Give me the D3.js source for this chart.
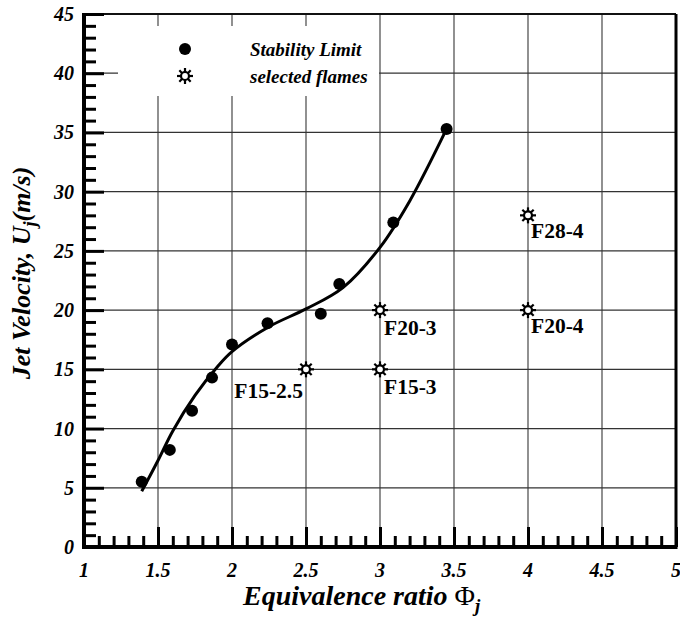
<!DOCTYPE html>
<html>
<head>
<meta charset="utf-8">
<script src="https://cdn.jsdelivr.net/npm/d3@7"></script>
<style>
  body { margin: 0; background: white; }
  text { font-family: "Liberation Serif", "Times New Roman", serif; }
</style>
</head>
<body>
<div id="chart"></div>
<script>
// stability limit measurements (phi, U)
const limitPhi = [1.39, 1.58, 1.73, 1.865, 2.0, 2.24, 2.60, 2.725, 3.09, 3.45]
const limitU   = [5.5, 8.2, 11.5, 14.3, 17.1, 18.9, 19.7, 22.2, 27.4, 35.3]

// fitted curve
const curvePhi = [1.39, 1.5, 1.6, 1.75, 1.9, 2.0, 2.25, 2.5, 2.75, 3.0, 3.2, 3.45]
const curveU   = [4.7, 7.3, 9.8, 12.8, 15.2, 16.5, 18.6, 20.1, 21.9, 25.3, 29.2, 35.3]

// selected flames
const flameNames = ["F15-2.5", "F15-3", "F20-3", "F20-4", "F28-4"]
const flamePhi   = [2.5, 3.0, 3.0, 4.0, 4.0]
const flameU     = [15, 15, 20, 20, 28]

const xTicks = [1, 1.5, 2, 2.5, 3, 3.5, 4, 4.5, 5]
const yTicks = [0, 5, 10, 15, 20, 25, 30, 35, 40, 45]

const w = 680, h = 619
const padL = 84, padR = 676, padT = 14, padB = 547

const svg = d3.select('#chart').append('svg')
    .attr('width', w).attr('height', h)

const x = d3.scaleLinear().domain([1, 5]).range([padL, padR])
const y = d3.scaleLinear().domain([0, 45]).range([padB, padT])

// grid
svg.append('g').selectAll('line')
    .data(xTicks.slice(1, -1)).enter().append('line')
    .attr('x1', d => x(d)).attr('x2', d => x(d))
    .attr('y1', padT).attr('y2', padB)
    .attr('stroke', '#555').attr('stroke-width', 1.3)
svg.append('g').selectAll('line')
    .data(yTicks.slice(1, -1)).enter().append('line')
    .attr('x1', padL).attr('x2', padR)
    .attr('y1', d => y(d)).attr('y2', d => y(d))
    .attr('stroke', '#333').attr('stroke-width', 1.3)

// legend background hides the grid
svg.append('rect')
    .attr('x', 118).attr('y', 26).attr('width', 261).attr('height', 70)
    .attr('fill', 'white')

// frame
svg.append('line').attr('x1', padL).attr('x2', padR).attr('y1', padT).attr('y2', padT)
    .attr('stroke', '#111').attr('stroke-width', 2)
svg.append('line').attr('x1', padR).attr('x2', padR).attr('y1', padT).attr('y2', padB)
    .attr('stroke', '#000').attr('stroke-width', 3)

// axes with inward ticks
const xAxis = d3.axisTop(x).tickValues(d3.range(10, 51).map(d => d / 10))
    .tickSize(11).tickFormat('')
const gx = svg.append('g').attr('transform', `translate(0,${padB})`).call(xAxis)
gx.selectAll('.tick line')
    .attr('y2', d => Math.abs(d * 2 - Math.round(d * 2)) < 1e-6 ? -20 : -11)
    .attr('stroke-width', 3)
gx.select('.domain').remove()

const yAxis = d3.axisRight(y).tickValues(d3.range(0, 46)).tickSize(12).tickFormat('')
const gy = svg.append('g').attr('transform', `translate(${padL},0)`).call(yAxis)
gy.selectAll('.tick line')
    .attr('x2', d => d % 5 === 0 ? 20 : 12)
    .attr('stroke-width', 3)
gy.select('.domain').remove()

svg.append('line').attr('x1', padL).attr('x2', padL).attr('y1', padT - 1).attr('y2', padB + 2)
    .attr('stroke', '#000').attr('stroke-width', 4)
svg.append('line').attr('x1', padL - 2).attr('x2', padR + 1.5).attr('y1', padB).attr('y2', padB)
    .attr('stroke', '#000').attr('stroke-width', 4)

// tick labels
svg.append('g').selectAll('text').data(xTicks).enter().append('text')
    .attr('x', d => x(d)).attr('y', 577)
    .attr('text-anchor', 'middle')
    .style('font-size', '20px').style('font-weight', 'bold').style('font-style', 'italic')
    .text(d => d)
svg.append('g').selectAll('text').data(yTicks).enter().append('text')
    .attr('x', 74).attr('y', d => y(d) + 7)
    .attr('text-anchor', 'end')
    .style('font-size', '20px').style('font-weight', 'bold').style('font-style', 'italic')
    .text(d => d)

// axis titles
const xt = svg.append('text').attr('x', 243).attr('y', 605)
    .style('font-size', '28px').style('font-weight', 'bold').style('font-style', 'italic')
xt.append('tspan').text('Equivalence ratio ')
xt.append('tspan').style('font-style', 'normal').style('font-weight', 'normal').text('Φ')
xt.append('tspan').attr('dy', 7).style('font-size', '19px').text('j')

const yt = svg.append('text').attr('transform', 'translate(30,273) rotate(-90)')
    .attr('text-anchor', 'middle')
    .style('font-size', '26px').style('font-weight', 'bold').style('font-style', 'italic')
yt.append('tspan').text('Jet Velocity, U')
yt.append('tspan').attr('dy', 6).style('font-size', '18px').text('j')
yt.append('tspan').attr('dy', -6).text('(m/s)')

// fitted curve
const curve = curvePhi.map((p, i) => [p, curveU[i]])
svg.append('path')
    .datum(curve)
    .attr('d', d3.line().x(d => x(d[0])).y(d => y(d[1])).curve(d3.curveCatmullRom))
    .attr('fill', 'none').attr('stroke', '#000').attr('stroke-width', 3)

// stability limit dots
svg.append('g').selectAll('circle')
    .data(limitPhi.map((p, i) => [p, limitU[i]])).enter().append('circle')
    .attr('cx', d => x(d[0])).attr('cy', d => y(d[1])).attr('r', 6)
    .attr('fill', '#000')

// star marker
const drawStar = (g, cx, cy) => {
    const s = g.append('g').attr('transform', `translate(${cx},${cy})`)
    d3.range(8).forEach(k => {
        const a = k * Math.PI / 4
        s.append('line')
            .attr('x1', 4 * Math.cos(a)).attr('y1', 4 * Math.sin(a))
            .attr('x2', 8 * Math.cos(a)).attr('y2', 8 * Math.sin(a))
            .attr('stroke', '#000').attr('stroke-width', 2.2)
    })
    s.append('circle').attr('r', 4).attr('fill', 'white')
        .attr('stroke', '#000').attr('stroke-width', 2.2)
}

const flames = svg.append('g')
flameNames.forEach((n, i) => {
    drawStar(flames, x(flamePhi[i]), y(flameU[i]))
    const lbl = flames.append('text')
        .style('font-size', '21.5px').style('font-weight', 'bold')
        .text(n)
    if (n === 'F15-2.5') {
        lbl.attr('x', x(flamePhi[i]) - 3).attr('y', y(flameU[i]) + 29).attr('text-anchor', 'end')
    } else if (flamePhi[i] === 4) {
        lbl.attr('x', x(flamePhi[i]) + 3).attr('y', y(flameU[i]) + 23)
    } else {
        lbl.attr('x', x(flamePhi[i]) + 4).attr('y', y(flameU[i]) + 25)
    }
})

// legend
svg.append('circle').attr('cx', 185).attr('cy', 49).attr('r', 6).attr('fill', '#000')
drawStar(svg, 185, 76)
svg.append('text').attr('x', 250).attr('y', 56)
    .style('font-size', '19px').style('font-weight', 'bold').style('font-style', 'italic')
    .text('Stability Limit')
svg.append('text').attr('x', 250).attr('y', 83)
    .style('font-size', '19px').style('font-weight', 'bold').style('font-style', 'italic')
    .text('selected flames')
</script>
</body>
</html>
